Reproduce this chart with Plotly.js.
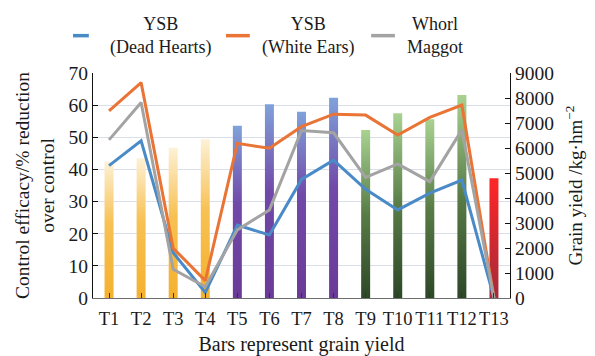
<!DOCTYPE html>
<html><head><meta charset="utf-8">
<script src="https://cdn.plot.ly/plotly-3.0.1.min.js"></script>
<style>html,body{margin:0;padding:0;background:#fff}#chart{width:595px;height:356px}</style>
</head><body><div id="chart"></div>
<script>
const categories = ['T1','T2','T3','T4','T5','T6','T7','T8','T9','T10','T11','T12','T13'];
const grainYield = [5450, 5590, 6010, 6350, 6890, 7750, 7450, 8010, 6720, 7390, 7150, 8120, 4790];
const deadHearts = [41.2, 48.9, 14.1, 1.7, 22.7, 19.6, 36.9, 42.9, 33.8, 27.4, 32.6, 36.7, 0];
const whiteEars  = [58.2, 67.0, 15.5, 5.4, 48.1, 46.6, 53.3, 57.2, 56.9, 50.7, 56.2, 60.0, 0];
const whorlMaggot= [49.2, 60.8, 8.9, 3.5, 21.2, 27.4, 52.1, 51.4, 37.5, 41.7, 36.2, 52.3, 0];
const barGroups = [0,0,0,0,1,1,1,1,2,2,2,2,3];
const groupStops = [
  [['0','#fdf1d6'],['0.45','#f7c153'],['1','#f4b12e']],
  [['0','#80a2da'],['0.45','#7149a9'],['1','#6a3a98']],
  [['0','#a9d291'],['0.5','#587c46'],['1','#2d4727']],
  [['0','#ff2626'],['1','#a52a3a']]
];
const groupFlat = ['#f5b73a','#6f45a3','#4c6e3d','#d22a30'];

const font = 'Liberation Serif, Times New Roman, serif';
const txt = '#1a1a1a';

const traces = [
  {type:'bar', x:categories, y:grainYield, yaxis:'y', width:0.28,
   marker:{color:barGroups.map(g=>groupFlat[g]), line:{width:0}}, showlegend:false, name:'Grain yield'},
  {type:'scatter', mode:'lines', x:categories, y:deadHearts, yaxis:'y2', name:'YSB (Dead Hearts)',
   line:{color:'#4a8bc7', width:3}},
  {type:'scatter', mode:'lines', x:categories, y:whiteEars, yaxis:'y2', name:'YSB (White Ears)',
   line:{color:'#ea7435', width:3}},
  {type:'scatter', mode:'lines', x:categories, y:whorlMaggot, yaxis:'y2', name:'Whorl Maggot',
   line:{color:'#a3a3a3', width:3}}
];

const legendItems = [
  {text:'YSB<br>(Dead Hearts)', color:'#4a8bc7', x0:-0.048, x1:-0.010, tx:0.163},
  {text:'YSB<br>(White Ears)', color:'#ea7435', x0:0.319, x1:0.376, tx:0.516},
  {text:'Whorl<br>Maggot', color:'#a3a3a3', x0:0.667, x1:0.724, tx:0.820}
];

const layout = {
  width:595, height:356,
  margin:{l:93, r:85, t:73, b:58},
  paper_bgcolor:'#fff', plot_bgcolor:'#fff',
  font:{family:font, size:19, color:txt},
  showlegend:false,
  bargap:0.7,
  xaxis:{type:'category', tickfont:{size:18.5, color:txt}, showline:true, linecolor:'#6e6e6e', linewidth:1.2,
    ticks:'inside', ticklen:5, tickcolor:'#333', showgrid:false, zeroline:false, ticklabelstandoff:4,
    title:{text:'Bars represent grain yield', font:{size:20, color:txt}, standoff:15}},
  yaxis:{side:'right', range:[0,9000], dtick:1000, showgrid:false, zeroline:false,
    showline:true, linecolor:'#111', linewidth:1.2, ticks:'inside', ticklen:5, tickcolor:'#111',
    tickfont:{size:19.5, color:txt},
    title:{text:'Grain yield /kg·hm<sup>−2</sup>', font:{size:19, color:txt}, standoff:15}},
  yaxis2:{overlaying:'y', side:'left', range:[0,70], dtick:10, showgrid:true, gridcolor:'#d9dee8', gridwidth:1,
    zeroline:false, showline:true, linecolor:'#111', linewidth:1.2, ticks:'inside', ticklen:5, tickcolor:'#111',
    tickfont:{size:19.5, color:txt},
    title:{text:'Control efficacy/% reduction<br>over control', font:{size:19.5, color:txt}, standoff:8}},
  shapes: legendItems.map(it=>({type:'line', xref:'paper', yref:'paper', x0:it.x0, x1:it.x1, y0:1.166, y1:1.166,
    line:{color:it.color, width:3.5}})),
  annotations: legendItems.map(it=>({text:it.text, xref:'paper', yref:'paper', x:it.tx, y:1.166,
    xanchor:'center', yanchor:'middle', align:'center', showarrow:false, font:{size:18, color:txt}}))
};

Plotly.newPlot('chart', traces, layout, {displayModeBar:false, staticPlot:true}).then(gd=>{
  const svg = gd.querySelector('svg.main-svg');
  const NS = 'http://www.w3.org/2000/svg';
  let defs = svg.querySelector('defs');
  if(!defs){ defs = document.createElementNS(NS,'defs'); svg.insertBefore(defs, svg.firstChild); }
  groupStops.forEach((stops,i)=>{
    const lg = document.createElementNS(NS,'linearGradient');
    lg.setAttribute('id','bargrad'+i);
    lg.setAttribute('x1','0'); lg.setAttribute('y1','0'); lg.setAttribute('x2','0'); lg.setAttribute('y2','1');
    stops.forEach(s=>{
      const st = document.createElementNS(NS,'stop');
      st.setAttribute('offset', s[0]); st.setAttribute('stop-color', s[1]);
      lg.appendChild(st);
    });
    defs.appendChild(lg);
  });
  const paths = gd.querySelectorAll('.barlayer .point path');
  paths.forEach((p,i)=>{ p.style.fill = 'url(#bargrad'+barGroups[i]+')'; });
});
</script></body></html>
